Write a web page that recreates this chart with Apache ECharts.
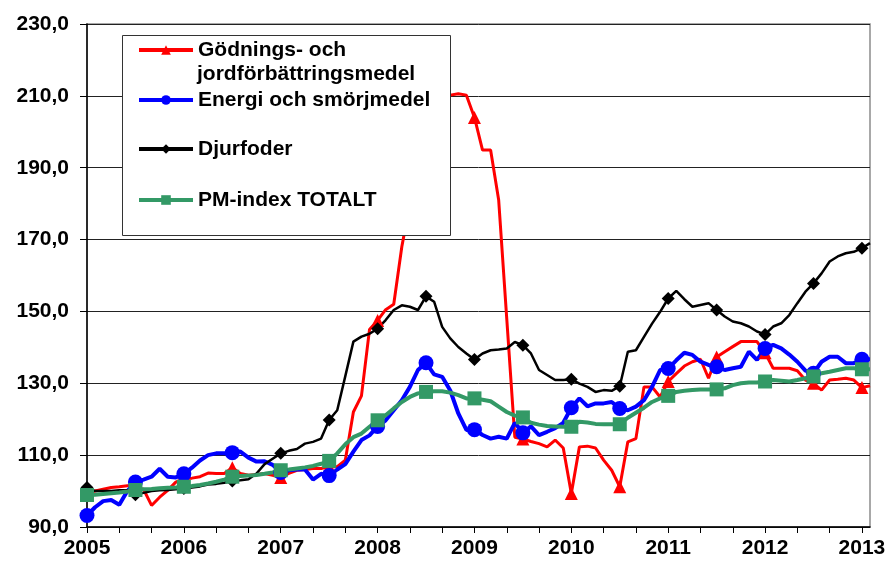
<!DOCTYPE html>
<html>
<head>
<meta charset="utf-8">
<script src="https://cdn.jsdelivr.net/npm/echarts@6/dist/echarts.min.js"></script>
<style>
html,body{margin:0;padding:0;background:#fff;}
#chart{width:889px;height:561px;}
</style>
</head>
<body>
<div id="chart"></div>
<script>
// Monthly index values, Jan 2005 .. Feb 2013 (98 months)
var yearLabels = ['2005','2006','2007','2008','2009','2010','2011','2012','2013'];
var seriesNames = ['Gödnings- och jordförbättringsmedel', 'Energi och smörjmedel', 'Djurfoder', 'PM-index TOTALT'];
var legendLine1 = 'Gödnings- och';
var legendLine2 = 'jordförbättringsmedel';

var godning = [99.5,100.0,100.5,101.0,101.2,101.5,100.8,100.5,96.0,98.3,
  100.2,102.5,103.5,103.6,104.0,105.0,104.9,104.9,106.5,104.9,
  104.4,104.6,104.9,104.4,103.8,104.9,105.8,106.0,106.3,106.3,
  106.8,106.8,108.6,122.0,126.5,145.0,147.5,150.5,152.0,168.0,
  180.0,192.0,201.0,206.0,209.0,210.2,210.6,210.2,204.0,194.9,
  194.9,181.0,148.0,115.0,114.5,113.8,113.2,112.3,114.2,112.0,
  99.3,112.3,112.5,112.0,108.6,105.8,101.2,113.7,114.6,129.0,
  129.0,126.2,130.5,132.7,134.8,136.0,136.7,131.4,137.3,138.8,
  140.2,141.6,141.6,141.6,138.5,134.2,134.2,134.2,133.5,130.9,
  130.0,128.1,130.9,131.1,131.4,130.9,128.8,129.3];

var energi = [93.2,95.5,97.2,97.5,96.2,100.0,102.5,103.2,104.0,106.2,
  104.0,103.8,104.8,106.5,108.5,110.0,110.5,110.5,110.7,111.0,
  109.3,108.2,108.3,107.3,105.2,105.8,106.0,106.0,103.2,104.8,
  104.3,106.0,107.5,111.0,114.2,115.5,118.0,119.7,122.5,125.3,
  129.0,133.7,135.7,132.5,131.8,128.0,121.6,117.0,117.1,115.6,
  114.6,115.1,114.6,119.0,116.2,118.0,115.6,116.5,117.5,119.0,
  123.2,125.8,123.6,124.4,124.4,124.8,123.0,122.5,123.5,125.3,
  129.0,133.7,134.1,136.4,138.5,137.9,136.0,135.1,134.6,133.7,
  134.2,134.6,138.8,136.5,139.7,140.7,139.7,138.0,136.0,133.5,
  132.8,136.0,137.4,137.4,135.6,135.6,136.7,136.7];

var djurfoder = [101.0,100.0,100.0,100.0,100.2,100.2,99.0,99.5,100.0,100.2,
  100.3,100.5,100.7,101.0,101.3,101.8,102.0,102.3,102.8,103.0,
  103.3,104.9,107.5,109.0,110.5,111.2,111.7,113.2,113.7,114.6,
  119.8,122.5,132.0,141.6,143.0,143.8,145.2,147.6,150.4,151.7,
  151.3,150.4,154.2,152.7,145.7,142.5,140.1,138.3,136.6,138.3,
  139.2,139.4,139.7,141.5,140.6,138.3,133.7,132.3,130.9,130.9,
  131.1,129.9,129.0,127.6,128.1,127.9,129.2,138.8,139.2,142.9,
  146.6,149.9,153.6,155.7,153.4,151.3,151.8,152.3,150.4,148.6,
  147.2,146.7,145.8,144.4,143.6,145.8,146.7,149.0,152.3,155.5,
  157.8,160.6,163.9,165.3,166.2,166.6,167.6,169.0];

var pmTotalt = [98.9,99.0,99.2,99.4,99.6,99.9,100.3,100.5,100.6,100.8,
  100.9,101.0,101.2,101.4,101.7,102.1,102.6,103.2,104.0,104.2,
  104.3,104.5,104.8,105.2,105.8,106.0,106.3,106.6,107.0,107.6,
  108.4,110.5,113.0,115.0,116.0,117.9,119.7,121.1,123.0,124.8,
  126.2,127.2,127.6,127.8,127.8,127.4,126.7,125.8,125.8,125.4,
  125.0,123.5,122.0,121.0,120.5,119.0,118.5,118.1,118.0,117.9,
  117.9,119.3,119.1,118.7,118.6,118.6,118.6,120.4,121.8,123.2,
  124.8,125.8,126.5,127.6,127.9,128.1,128.3,128.3,128.3,128.6,
  129.5,130.0,130.2,130.2,130.5,130.9,130.7,130.5,130.9,131.4,
  131.9,132.8,133.2,133.7,134.2,134.2,133.9,133.9];

var FONT = '"Liberation Sans", Arial, sans-serif';

function toData(arr) {
  return arr.map(function (v, i) {
    if (i % 6 === 0) return { value: [i, v] };
    return { value: [i, v], symbol: 'none' };
  });
}

var tickVals = [];
for (var t = 0; t <= 96; t += 4) tickVals.push(t);
var labelVals = yearLabels.map(function (y, k) { return k * 12; });

var chart = echarts.init(document.getElementById('chart'), null, { renderer: 'canvas' });

function legendItem(name, top, fmt) {
  return {
    data: [name],
    left: 137,
    top: top,
    orient: 'vertical',
    padding: 0,
    itemWidth: 54,
    itemHeight: 12,
    itemGap: 0,
    z: 20,
    selectedMode: false,
    formatter: fmt,
    lineStyle: { width: 4 },
    textStyle: {
      color: '#000', fontWeight: 'bold', fontSize: 21, fontFamily: FONT, lineHeight: 24
    }
  };
}

var option = {
  animation: false,
  backgroundColor: '#fff',
  grid: {
    left: 87, right: 19, top: 24, bottom: 34,
    show: true, borderColor: '#8c8c8c', borderWidth: 1.5, backgroundColor: 'transparent'
  },
  xAxis: {
    type: 'value',
    min: 0, max: 97,
    axisLine: { show: true, onZero: false, lineStyle: { color: '#000', width: 1.5 } },
    axisTick: { show: true, length: 6, customValues: tickVals, lineStyle: { color: '#000', width: 1 } },
    axisLabel: {
      customValues: labelVals,
      margin: 11,
      color: '#000', fontWeight: 'bold', fontSize: 21, fontFamily: FONT,
      formatter: function (v) { return yearLabels[Math.round(v / 12)]; }
    },
    splitLine: { show: false }
  },
  yAxis: {
    type: 'value',
    min: 90, max: 230, interval: 20,
    axisLine: { show: true, lineStyle: { color: '#000', width: 1.5 } },
    axisTick: { show: true, length: 7, lineStyle: { color: '#000', width: 1 } },
    axisLabel: {
      margin: 18,
      color: '#000', fontWeight: 'bold', fontSize: 21, fontFamily: FONT,
      formatter: function (v) { return v.toFixed(1).replace('.', ','); }
    },
    splitLine: { show: true, lineStyle: { color: '#222', width: 1 } }
  },
  graphic: [{
    type: 'rect',
    z: 10,
    shape: { x: 122.5, y: 35.5, width: 328, height: 200 },
    style: { fill: '#fff', stroke: '#333', lineWidth: 1 }
  }, {
    type: 'text',
    z: 20,
    left: 197,
    top: 64,
    style: { text: legendLine2, fill: '#000', font: 'bold 21px ' + FONT }
  }],
  legend: [
    legendItem(seriesNames[0], 38, function () { return legendLine1; }),
    legendItem(seriesNames[1], 88, null),
    legendItem(seriesNames[2], 137, null),
    legendItem(seriesNames[3], 188, null)
  ],
  series: [
    {
      name: seriesNames[0], type: 'line', data: toData(godning),
      symbol: 'triangle', symbolSize: 13, showSymbol: true,
      lineStyle: { color: '#ff0000', width: 3 }, itemStyle: { color: '#ff0000' }, z: 2
    },
    {
      name: seriesNames[1], type: 'line', data: toData(energi),
      symbol: 'circle', symbolSize: 15, showSymbol: true,
      lineStyle: { color: '#0000ff', width: 4 }, itemStyle: { color: '#0000ff' }, z: 2
    },
    {
      name: seriesNames[2], type: 'line', data: toData(djurfoder),
      symbol: 'diamond', symbolSize: 13, showSymbol: true,
      lineStyle: { color: '#000000', width: 2.5 }, itemStyle: { color: '#000000' }, z: 2
    },
    {
      name: seriesNames[3], type: 'line', data: toData(pmTotalt),
      symbol: 'rect', symbolSize: 14, showSymbol: true,
      lineStyle: { color: '#339966', width: 4 }, itemStyle: { color: '#339966' }, z: 2
    }
  ]
};
chart.setOption(option);
</script>
</body>
</html>
